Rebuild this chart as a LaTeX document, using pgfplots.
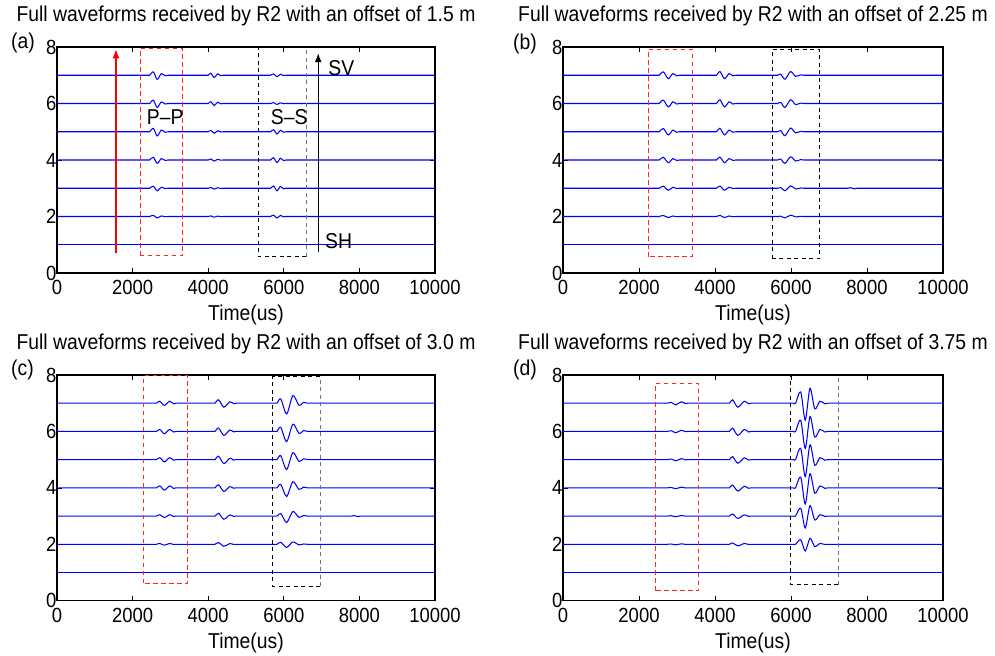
\documentclass[border=0pt]{standalone}
\usepackage{fontspec}
\setmainfont{Liberation Sans}[FakeStretch=0.9]
\usepackage{pgfplots}
\usepackage{pgfplotstable}
\pgfplotsset{compat=1.18}
\usetikzlibrary{arrows.meta}

\newcommand\tsz{\fontsize{21.5bp}{24bp}\selectfont}
\newcommand\ksz{\fontsize{20.5bp}{22bp}\selectfont}

% Panel (a): offset 1.5 m
\pgfplotstableread{
x      t2     t3     t4     t5     t6     t7
0      2      3      4      5      6      7
2400   2      3      4      5      6      7
2400   nan    nan    nan    nan    nan    nan
2400   2      3      4      5      6      7
2450   2      3      4      5      6      7
2550   2.042  3.072  4.096  5.120  6.114  7.120
2650   1.948  2.910  3.880  4.850  5.858  6.850
2760   2.021  3.036  4.048  5.060  6.057  7.060
2860   1.993  2.988  3.984  4.980  5.981  6.980
2950   2      3      4      5      6      7
3000   2      3      4      5      6      7
3000   nan    nan    nan    nan    nan    nan
3000   2      3      4      5      6      7
3950   2      3      4      5      6      7
3950   nan    nan    nan    nan    nan    nan
3950   2      3      4      5      6      7
4000   2      3      4      5      6      7
4070   2.021  3.028  4.035  5.049  6.063  7.070
4160   1.976  2.968  3.960  4.944  5.928  6.920
4250   2.015  3.020  4.025  5.035  6.045  7.050
4330   1.996  2.994  3.993  4.990  5.987  6.985
4400   2      3      4      5      6      7
4450   2      3      4      5      6      7
4450   nan    nan    nan    nan    nan    nan
4450   2      3      4      5      6      7
5600   2      3      4      5      6      7
5600   nan    nan    nan    nan    nan    nan
5600   2      3      4      5      6      7
5650   2      3      4      5      6      7
5730   2.048  3.080  4.080  5.072  6.032  7.048
5820   1.946  2.910  3.910  4.919  5.964  6.946
5910   2.036  3.060  4.060  5.054  6.024  7.036
5990   1.988  2.980  3.980  4.982  5.992  6.988
6060   2      3      4      5      6      7
6110   2      3      4      5      6      7
6110   nan    nan    nan    nan    nan    nan
6110   2      3      4      5      6      7
10000  2      3      4      5      6      7
}\tabA

% Panel (b): offset 2.25 m
\pgfplotstableread{
x      t2     t3     t4     t5     t6     t7
0      2      3      4      5      6      7
2480   2      3      4      5      6      7
2480   nan    nan    nan    nan    nan    nan
2480   2      3      4      5      6      7
2530   2      3      4      5      6      7
2640   2.036  3.072  4.096  5.114  6.120  7.120
2770   1.964  2.928  3.904  4.886  5.880  6.880
2890   2.018  3.036  4.048  5.057  6.060  7.060
2990   1.994  2.988  3.984  4.981  5.980  6.980
3070   2      3      4      5      6      7
3120   2      3      4      5      6      7
3120   nan    nan    nan    nan    nan    nan
3120   2      3      4      5      6      7
3990   2      3      4      5      6      7
3990   nan    nan    nan    nan    nan    nan
3990   2      3      4      5      6      7
4040   2      3      4      5      6      7
4130   2.039  3.078  4.104  5.124  6.130  7.130
4250   1.964  2.928  3.904  4.886  5.880  6.880
4370   2.018  3.036  4.048  5.057  6.060  7.060
4470   1.994  2.988  3.984  4.981  5.980  6.980
4550   2      3      4      5      6      7
4600   2      3      4      5      6      7
4600   nan    nan    nan    nan    nan    nan
4600   2      3      4      5      6      7
5600   2      3      4      5      6      7
5600   nan    nan    nan    nan    nan    nan
5600   2      3      4      5      6      7
5650   2      3      4      5      6      7
5730   2.014  3.026  4.034  5.040  6.040  7.040
5840   1.951  2.909  3.881  4.860  5.860  6.860
5990   2.046  3.085  4.111  5.130  6.130  7.130
6120   1.986  2.974  3.966  4.960  5.960  6.960
6250   2.005  3.010  4.013  5.015  6.015  7.015
6330   2      3      4      5      6      7
6380   2      3      4      5      6      7
6380   nan    nan    nan    nan    nan    nan
6380   2      3      4      5      6      7
7450   2      3      4      5      6      7
7450   nan    nan    nan    nan    nan    nan
7450   2      3      4      5      6      7
7500   2      3      4      5      6      7
7570   2      3.020  4      5      6      7
7660   2      2.980  4      5      6      7
7730   2      3      4      5      6      7
7780   2      3      4      5      6      7
7780   nan    nan    nan    nan    nan    nan
7780   2      3      4      5      6      7
10000  2      3      4      5      6      7
}\tabB

% Panel (c): offset 3.0 m
\pgfplotstableread{
x      t2     t3     t4     t5     t6     t7
0      2      3      4      5      6      7
2580   2      3      4      5      6      7
2580   nan    nan    nan    nan    nan    nan
2580   2      3      4      5      6      7
2630   2      3      4      5      6      7
2720   2.028  3.049  4.070  5.070  6.070  7.070
2840   1.968  2.944  3.920  4.920  5.920  6.920
2980   2.028  3.049  4.070  5.070  6.070  7.070
3080   1.992  2.986  3.980  4.980  5.980  6.980
3150   2      3      4      5      6      7
3200   2      3      4      5      6      7
3200   nan    nan    nan    nan    nan    nan
3200   2      3      4      5      6      7
4130   2      3      4      5      6      7
4130   nan    nan    nan    nan    nan    nan
4130   2      3      4      5      6      7
4180   2      3      4      5      6      7
4275   2.060  3.096  4.108  5.120  6.120  7.120
4415   1.930  2.888  3.874  4.860  5.860  6.860
4570   2.025  3.040  4.045  5.050  6.050  7.050
4670   1.993  2.988  3.987  4.985  5.985  6.985
4740   2      3      4      5      6      7
4790   2      3      4      5      6      7
4790   nan    nan    nan    nan    nan    nan
4790   2      3      4      5      6      7
5770   2      3      4      5      6      7
5770   nan    nan    nan    nan    nan    nan
5770   2      3      4      5      6      7
5820   2      3      4      5      6      7
5920   2.070  3.090  4.120  5.138  6.143  7.150
6075   1.890  2.772  3.696  4.650  5.639  6.620
6240   2.080  3.162  4.216  5.248  6.257  7.270
6400   1.980  2.958  3.944  4.936  5.934  6.930
6520   2.010  3.018  4.024  5.028  6.029  7.030
6620   2      3      4      5      6      7
6670   2      3      4      5      6      7
6670   nan    nan    nan    nan    nan    nan
6670   2      3      4      5      6      7
7750   2      3      4      5      6      7
7750   nan    nan    nan    nan    nan    nan
7750   2      3      4      5      6      7
7800   2      3      4      5      6      7
7860   2      3.020  4      5      6      7
7960   2      2.980  4      5      6      7
8030   2      3      4      5      6      7
8080   2      3      4      5      6      7
8080   nan    nan    nan    nan    nan    nan
8080   2      3      4      5      6      7
10000  2      3      4      5      6      7
}\tabC

% Panel (d): offset 3.75 m
\pgfplotstableread{
x      t2     t3     t4     t5     t6     t7
0      2      3      4      5      6      7
2700   2      3      4      5      6      7
2700   nan    nan    nan    nan    nan    nan
2700   2      3      4      5      6      7
2750   2      3      4      5      6      7
2850   2.009  3.012  4.015  5.021  6.024  7.030
2970   1.982  2.976  3.970  4.958  5.952  6.940
3110   2.015  3.020  4.025  5.035  6.040  7.050
3220   1.997  2.996  3.995  4.993  5.992  6.990
3280   2      3      4      5      6      7
3330   2      3      4      5      6      7
3330   nan    nan    nan    nan    nan    nan
3330   2      3      4      5      6      7
4330   2      3      4      5      6      7
4330   nan    nan    nan    nan    nan    nan
4330   2      3      4      5      6      7
4380   2      3      4      5      6      7
4465   2.048  3.072  4.096  5.108  6.120  7.120
4600   1.944  2.916  3.888  4.874  5.860  6.860
4770   2.028  3.042  4.056  5.063  6.070  7.070
4880   1.992  2.988  3.984  4.982  5.980  6.980
4950   2      3      4      5      6      7
5000   2      3      4      5      6      7
5000   nan    nan    nan    nan    nan    nan
5000   2      3      4      5      6      7
6070   2      3      4      5      6      7
6070   nan    nan    nan    nan    nan    nan
6070   2      3      4      5      6      7
6120   2      3      4      5      6      7
6255   2.160  3.280  4.380  5.400  6.400  7.400
6375   1.760  2.580  3.430  4.400  5.400  6.400
6500   2.212  3.371  4.504  5.530  6.530  7.530
6625   1.920  2.860  3.810  4.800  5.800  6.800
6760   2.028  3.049  4.067  5.070  6.070  7.070
6890   1.992  2.986  3.981  4.980  5.980  6.980
6970   2      3      4      5      6      7
7020   2      3      4      5      6      7
7020   nan    nan    nan    nan    nan    nan
7020   2      3      4      5      6      7
10000  2      3      4      5      6      7
}\tabD

\pgfplotsset{
  panel/.style={
    scale only axis, anchor=south west,
    xmin=0, xmax=10000, ymin=0, ymax=8,
    xtick={0,2000,4000,6000,8000,10000},
    xticklabels={0,2000,4000,6000,8000,10000},
    ytick={0,2,4,6,8}, yticklabels={0,2,4,6,8},
    scaled ticks=false,
    /pgf/number format/assume math mode=true,
    tick align=inside, major tick length=5bp,
    tick style={black, line width=0.7bp},
    axis line style={black, line width=1.1bp},
    tick label style={font=\ksz},
    xticklabel style={yshift=-4bp},
    yticklabel style={xshift=3bp},
    title style={at={(axis description cs:0.5,1)}, anchor=base, yshift=20bp, font=\tsz},
    xlabel style={at={(axis description cs:0.5,0)}, anchor=base, yshift=-47.6bp, font=\tsz},
    xlabel={Time(us)},
    unbounded coords=jump,
    clip=false,
  },
  wave/.style={blue, line width=1.05bp, smooth, mark=none},
}
\tikzset{
  rbox/.style={red!85, line width=0.9bp, dash pattern=on 4.5bp off 3.5bp},
  kbox/.style={black, line width=0.9bp, dash pattern=on 4bp off 3.5bp},
  gbox/.style={black!55, line width=0.9bp, dash pattern=on 4bp off 3.5bp},
}

\begin{document}
\begin{tikzpicture}
\path[use as bounding box] (0,0) rectangle (995bp,656bp);

% ---------------- (a)
\begin{axis}[panel, at={(57bp,383bp)}, width=378bp, height=226bp,
  title={Full waveforms received by R2 with an offset of 1.5 m}]
\addplot[wave] coordinates {(0,1)(10000,1)};
\addplot[wave] table[x=x,y=t2]{\tabA};
\addplot[wave] table[x=x,y=t3]{\tabA};
\addplot[wave] table[x=x,y=t4]{\tabA};
\addplot[wave] table[x=x,y=t5]{\tabA};
\addplot[wave] table[x=x,y=t6]{\tabA};
\addplot[wave] table[x=x,y=t7]{\tabA};
\draw[rbox] (2200,0.61) rectangle (3320,7.96);
\draw[kbox] (6590,0.57) -- (5330,0.57) -- (5330,8);
\draw[gbox] (6590,0.57) -- (6590,8);
\draw[red, line width=1.2bp, -{Latex[length=9bp,width=7bp]}] (1560,0.7) -- (1560,7.92);
\draw[black, line width=1.2bp, -{Latex[length=9bp,width=7bp]}] (6910,0.73) -- (6910,7.78);
\node[anchor=west, inner sep=0pt, font=\tsz] at (7177,7.25) {SV};
\node[anchor=west, inner sep=0pt, font=\tsz] at (7090,1.14) {SH};
\node[anchor=west, inner sep=0pt, font=\tsz] at (2373,5.53) {P–P};
\node[anchor=west, inner sep=0pt, font=\tsz] at (5653,5.53) {S–S};
\end{axis}

% ---------------- (b)
\begin{axis}[panel, at={(563bp,383bp)}, width=380bp, height=226bp,
  title={Full waveforms received by R2 with an offset of 2.25 m}]
\addplot[wave] coordinates {(0,1)(10000,1)};
\addplot[wave] table[x=x,y=t2]{\tabB};
\addplot[wave] table[x=x,y=t3]{\tabB};
\addplot[wave] table[x=x,y=t4]{\tabB};
\addplot[wave] table[x=x,y=t5]{\tabB};
\addplot[wave] table[x=x,y=t6]{\tabB};
\addplot[wave] table[x=x,y=t7]{\tabB};
\draw[rbox] (2245,0.57) rectangle (3395,7.92);
\draw[kbox] (5508,0.5) rectangle (6745,7.92);
\end{axis}

% ---------------- (c)
\begin{axis}[panel, at={(57bp,55.3bp)}, width=378bp, height=225.7bp,
  title={Full waveforms received by R2 with an offset of 3.0 m}]
\addplot[wave] coordinates {(0,1)(10000,1)};
\addplot[wave] table[x=x,y=t2]{\tabC};
\addplot[wave] table[x=x,y=t3]{\tabC};
\addplot[wave] table[x=x,y=t4]{\tabC};
\addplot[wave] table[x=x,y=t5]{\tabC};
\addplot[wave] table[x=x,y=t6]{\tabC};
\addplot[wave] table[x=x,y=t7]{\tabC};
\draw[rbox] (2300,0.62) rectangle (3450,7.97);
\draw[kbox] (6960,0.52) -- (5700,0.52) -- (5700,7.94) -- (6960,7.94);
\draw[gbox] (6960,0.52) -- (6960,7.94);
\end{axis}

% ---------------- (d)
\begin{axis}[panel, at={(563bp,55.3bp)}, width=380bp, height=225.7bp,
  title={Full waveforms received by R2 with an offset of 3.75 m}]
\addplot[wave] coordinates {(0,1)(10000,1)};
\addplot[wave] table[x=x,y=t2]{\tabD};
\addplot[wave] table[x=x,y=t3]{\tabD};
\addplot[wave] table[x=x,y=t4]{\tabD};
\addplot[wave] table[x=x,y=t5]{\tabD};
\addplot[wave] table[x=x,y=t6]{\tabD};
\addplot[wave] table[x=x,y=t7]{\tabD};
\draw[rbox] (2430,0.35) rectangle (3570,7.7);
\draw[kbox] (7240,0.56) -- (5990,0.56) -- (5990,8);
\draw[gbox] (7240,0.56) -- (7240,8);
\end{axis}

% panel letters
\node[font=\tsz] at (23bp,613bp) {(a)};
\node[font=\tsz] at (525bp,612bp) {(b)};
\node[font=\tsz] at (22.5bp,286bp) {(c)};
\node[font=\tsz] at (525bp,286bp) {(d)};
\end{tikzpicture}
\end{document}
